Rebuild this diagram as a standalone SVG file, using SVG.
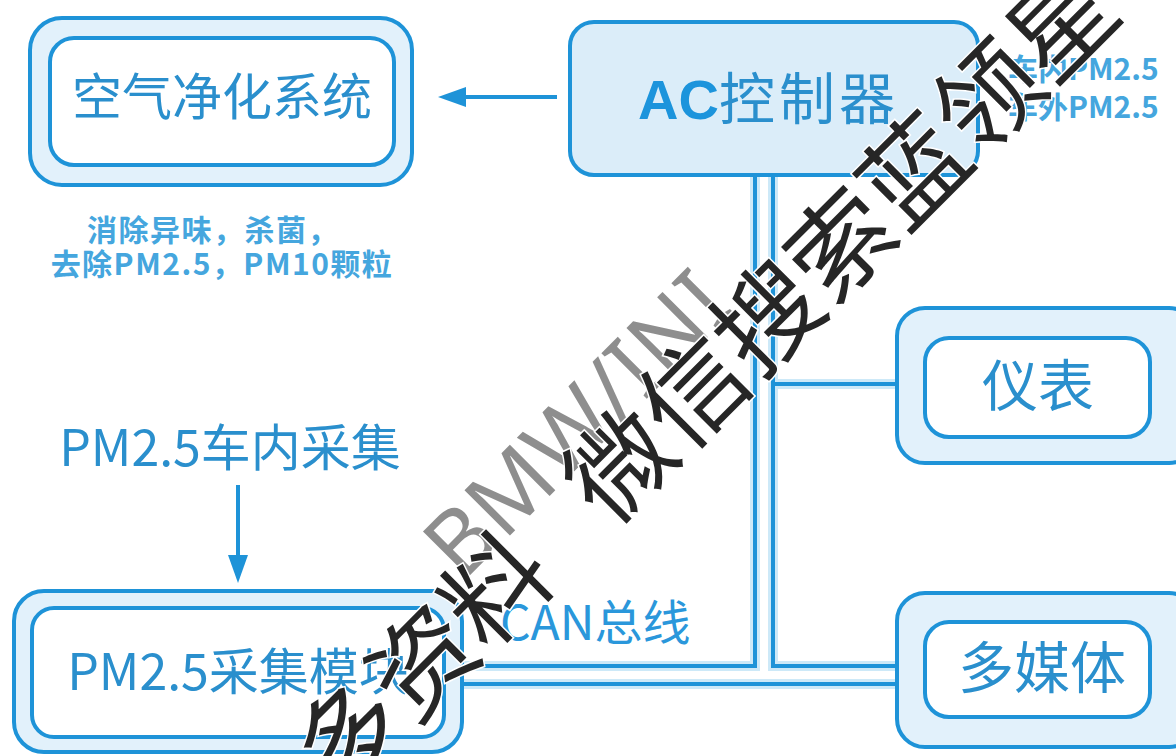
<svg xmlns="http://www.w3.org/2000/svg" width="1176" height="756" viewBox="0 0 1176 756">
<style>
.ob{fill:#e2f1fb;stroke:#1e93d8;stroke-width:4}
.ib{fill:#fff;stroke:#1e93d8;stroke-width:4}
.lbl{font-family:"Noto Sans CJK SC","Noto Sans",sans-serif;fill:#2a8fcd;text-anchor:middle}
.note{font-family:"Noto Sans CJK SC","Noto Sans",sans-serif;font-weight:700;fill:#45a6de}
.bus{fill:none;stroke:#1e93d8;stroke-width:4}
.glow{fill:none;stroke:#cde9f8;stroke-width:10}
.arr{fill:none;stroke:#1e93d8;stroke-width:4}
.wm{font-family:"Noto Sans CJK SC",sans-serif;fill:#262626;stroke:#fff;stroke-width:3;paint-order:stroke}
</style>
<defs>
<marker id="ah" viewBox="0 0 28 20" refX="0" refY="10" markerWidth="28" markerHeight="20" markerUnits="userSpaceOnUse" orient="auto">
<path d="M0,0 L28,10 L0,20 z" fill="#1e93d8"/>
</marker>
</defs>
<rect width="1176" height="756" fill="#fff"/>

<g id="connectors">
<path class="glow" d="M755,175 V666 H462 M773,175 V666 H897 M773,384 H897 M462,684 H897"/>
<path class="bus" d="M755,175 V666 H462"/>
<path class="bus" d="M773,175 V666 H897"/>
<path class="bus" d="M773,384 H897"/>
<path class="bus" d="M462,684 H897"/>
<line class="arr" x1="557" y1="97" x2="466" y2="97" marker-end="url(#ah)"/>
<line class="arr" x1="238" y1="485" x2="238" y2="555" marker-end="url(#ah)"/>
<text x="500" y="640" font-size="48" font-family="Noto Sans CJK SC,Noto Sans,sans-serif" fill="#2a97db">CAN总线</text>
</g>

<g id="air-purifier">
<rect class="ob" x="30" y="18" width="382" height="167" rx="32"/>
<rect class="ib" x="50" y="38" width="344" height="127" rx="24"/>
<text class="lbl" x="222" y="115" font-size="50">空气净化系统</text>
<text class="note" x="213" y="241" font-size="30" text-anchor="middle" letter-spacing="1.5">消除异味，杀菌，</text>
<text class="note" x="222" y="275" font-size="30" text-anchor="middle" letter-spacing="1.5">去除PM2.5，PM10颗粒</text>
</g>

<g id="ac-controller">
<rect x="570" y="22" width="408" height="153" rx="24" fill="#dbedf9" stroke="#1e93d8" stroke-width="4"/>
<text x="638" y="119" font-size="56" fill="#1c94dc"><tspan font-family="Liberation Sans,Arial,sans-serif" font-weight="700">AC</tspan><tspan font-family="Noto Sans CJK SC,sans-serif" fill="#2a8fcd" letter-spacing="4">控制器</tspan></text>
<text class="note" x="1008" y="80" font-size="30">车内PM2.5</text>
<text class="note" x="1008" y="118" font-size="30">车外PM2.5</text>
</g>

<g id="pm-collect">
<text class="lbl" x="230" y="466" font-size="50">PM2.5车内采集</text>
<rect class="ob" x="14" y="591" width="448" height="161" rx="30"/>
<rect class="ib" x="32" y="608" width="412" height="129" rx="22"/>
<text class="lbl" x="238" y="690" font-size="50">PM2.5采集模块</text>
</g>

<g id="instrument">
<rect class="ob" x="897" y="308" width="300" height="155" rx="28"/>
<rect class="ib" x="925" y="338" width="225" height="99" rx="24"/>
<text class="lbl" x="1038" y="406" font-size="56">仪表</text>
</g>

<g id="multimedia">
<rect class="ob" x="897" y="593" width="300" height="154" rx="28"/>
<rect class="ib" x="925" y="622" width="225" height="95" rx="24"/>
<text class="lbl" x="1042" y="688" font-size="56">多媒体</text>
</g>

<g id="watermark" transform="translate(620,465) rotate(-45)">
<text x="-195" y="-28" font-size="90" font-family="Noto Sans,sans-serif" fill="#7a7a7a" fill-opacity="0.85">BMW/INI</text>
<text class="wm" x="-123" y="38" font-size="104" text-anchor="end">多资料</text>
<text class="wm" x="-52" y="38" font-size="104">微信搜索蓝领星</text>
</g>
</svg>
